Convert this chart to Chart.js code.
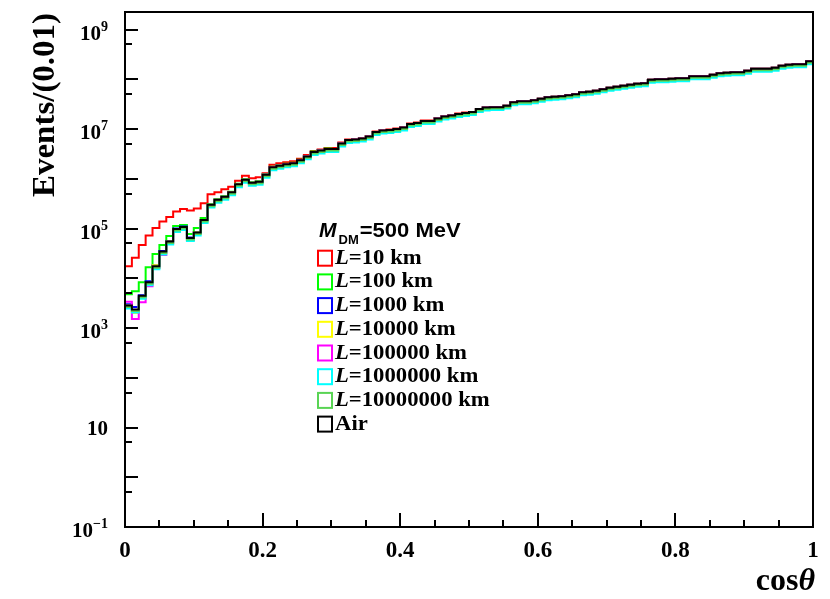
<!DOCTYPE html>
<html>
<head>
<meta charset="utf-8">
<script src="https://cdn.jsdelivr.net/npm/chart.js@4/dist/chart.umd.min.js"></script>
<style>
html,body{margin:0;padding:0;background:#fff;}
#wrap{width:830px;height:599px;position:relative;}
</style>
</head>
<body>
<div id="wrap"><canvas id="c"></canvas></div>
<script>
// histogram: 100 bins of width 0.01 in cos(theta); values are log10(events per bin)
const binWidth = 0.01;
const yMin = 0.1, yMax = 2.25e9;

const logL10 = [
  4.24,4.41,4.67,4.86,5.01,5.14,5.23,5.34,5.39,5.36,
  5.40,5.51,5.69,5.73,5.79,5.84,5.96,6.06,6.01,6.03,
  6.11,6.28,6.31,6.33,6.35,6.40,6.48,6.56,6.59,6.62,
  6.62,6.73,6.79,6.80,6.82,6.86,6.95,6.98,6.99,7.01,
  7.04,7.11,7.13,7.17,7.17,7.22,7.26,7.28,7.31,7.33,
  7.34,7.40,7.43,7.44,7.44,7.47,7.54,7.56,7.56,7.58,
  7.61,7.64,7.65,7.66,7.68,7.70,7.74,7.75,7.77,7.80,
  7.83,7.85,7.87,7.89,7.91,7.92,7.99,8.00,8.00,8.01,
  8.02,8.02,8.06,8.06,8.06,8.09,8.12,8.13,8.14,8.14,
  8.17,8.21,8.21,8.21,8.23,8.27,8.29,8.30,8.30,8.36];
const logL100 = [
  3.68,3.74,3.92,4.22,4.49,4.67,4.85,5.05,5.07,4.89,
  5.01,5.21,5.49,5.59,5.65,5.74,5.90,5.99,5.93,5.95,
  6.09,6.24,6.27,6.30,6.32,6.38,6.46,6.55,6.58,6.61,
  6.60,6.71,6.78,6.79,6.81,6.85,6.94,6.97,6.98,7.00,
  7.03,7.10,7.12,7.16,7.16,7.21,7.25,7.27,7.30,7.32,
  7.34,7.40,7.43,7.44,7.44,7.47,7.54,7.56,7.56,7.58,
  7.61,7.64,7.65,7.66,7.68,7.70,7.74,7.75,7.77,7.80,
  7.83,7.85,7.87,7.89,7.91,7.92,7.99,8.00,8.00,8.01,
  8.02,8.02,8.06,8.06,8.06,8.09,8.12,8.13,8.14,8.14,
  8.17,8.21,8.21,8.21,8.23,8.27,8.29,8.30,8.30,8.36];
const logL1000 = [
  3.48,3.42,3.66,3.94,4.26,4.55,4.75,5.00,5.04,4.82,
  4.92,5.17,5.48,5.58,5.64,5.73,5.89,5.98,5.92,5.94,
  6.08,6.23,6.26,6.29,6.31,6.37,6.45,6.54,6.57,6.60,
  6.60,6.71,6.78,6.79,6.81,6.85,6.94,6.97,6.98,7.00,
  7.03,7.10,7.12,7.16,7.16,7.21,7.25,7.27,7.30,7.32,
  7.34,7.40,7.43,7.44,7.44,7.47,7.54,7.56,7.56,7.58,
  7.61,7.64,7.65,7.66,7.68,7.70,7.74,7.75,7.77,7.80,
  7.83,7.85,7.87,7.89,7.91,7.92,7.99,8.00,8.00,8.01,
  8.02,8.02,8.06,8.06,8.06,8.09,8.12,8.13,8.14,8.14,
  8.17,8.21,8.21,8.21,8.23,8.27,8.29,8.30,8.30,8.36];
const logL1e4 = [
  3.45,3.30,3.60,3.90,4.26,4.52,4.74,4.99,5.03,4.81,
  4.92,5.17,5.48,5.58,5.64,5.73,5.89,5.98,5.92,5.94,
  6.08,6.23,6.26,6.29,6.31,6.37,6.45,6.54,6.57,6.60,
  6.60,6.71,6.78,6.79,6.81,6.85,6.94,6.97,6.98,7.00,
  7.03,7.10,7.12,7.16,7.16,7.21,7.25,7.27,7.30,7.32,
  7.34,7.40,7.43,7.44,7.44,7.47,7.54,7.56,7.56,7.58,
  7.61,7.64,7.65,7.66,7.68,7.70,7.74,7.75,7.77,7.80,
  7.83,7.85,7.87,7.89,7.91,7.92,7.99,8.00,8.00,8.01,
  8.02,8.02,8.06,8.06,8.06,8.09,8.12,8.13,8.14,8.14,
  8.17,8.21,8.21,8.21,8.23,8.27,8.29,8.30,8.30,8.36];
const logL1e5 = [
  3.53,3.18,3.52,3.84,4.21,4.47,4.70,4.97,5.01,4.77,
  4.90,5.16,5.47,5.57,5.63,5.72,5.88,5.97,5.91,5.93,
  6.08,6.23,6.26,6.29,6.31,6.37,6.45,6.54,6.57,6.60,
  6.60,6.71,6.78,6.79,6.81,6.85,6.94,6.97,6.98,7.00,
  7.03,7.10,7.12,7.16,7.16,7.21,7.25,7.27,7.30,7.32,
  7.34,7.40,7.43,7.44,7.44,7.47,7.54,7.56,7.56,7.58,
  7.61,7.64,7.65,7.66,7.68,7.70,7.74,7.75,7.77,7.80,
  7.83,7.85,7.87,7.89,7.91,7.92,7.99,8.00,8.00,8.01,
  8.02,8.02,8.06,8.06,8.06,8.09,8.12,8.13,8.14,8.14,
  8.17,8.21,8.21,8.21,8.23,8.27,8.29,8.30,8.30,8.36];
const logL1e6 = [
  3.39,3.31,3.59,3.86,4.18,4.48,4.68,4.93,4.97,4.75,
  4.86,5.11,5.42,5.52,5.58,5.67,5.83,5.92,5.86,5.88,
  6.02,6.17,6.20,6.23,6.25,6.31,6.39,6.48,6.51,6.54,
  6.54,6.65,6.72,6.73,6.75,6.79,6.88,6.91,6.92,6.94,
  6.97,7.04,7.06,7.10,7.10,7.15,7.19,7.21,7.24,7.26,
  7.28,7.34,7.37,7.38,7.38,7.41,7.48,7.50,7.50,7.52,
  7.55,7.58,7.59,7.60,7.62,7.64,7.68,7.69,7.71,7.74,
  7.77,7.79,7.81,7.83,7.85,7.86,7.93,7.94,7.94,7.95,
  7.96,7.96,8.00,8.00,8.00,8.03,8.06,8.07,8.08,8.08,
  8.11,8.15,8.15,8.15,8.17,8.21,8.23,8.24,8.24,8.30];
const logL1e7 = [
  3.42,3.34,3.62,3.89,4.21,4.51,4.71,4.96,5.00,4.78,
  4.89,5.14,5.45,5.55,5.61,5.70,5.86,5.95,5.89,5.91,
  6.05,6.20,6.23,6.26,6.28,6.34,6.42,6.51,6.54,6.57,
  6.57,6.68,6.75,6.76,6.78,6.82,6.91,6.94,6.95,6.97,
  7.00,7.07,7.09,7.13,7.13,7.18,7.22,7.24,7.27,7.29,
  7.31,7.37,7.40,7.41,7.41,7.44,7.51,7.53,7.53,7.55,
  7.58,7.61,7.62,7.63,7.65,7.67,7.71,7.72,7.74,7.77,
  7.80,7.82,7.84,7.86,7.88,7.89,7.96,7.97,7.97,7.98,
  7.99,7.99,8.03,8.03,8.03,8.06,8.09,8.10,8.11,8.11,
  8.14,8.18,8.18,8.18,8.20,8.24,8.26,8.27,8.27,8.33];
const logAir = [
  3.45,3.37,3.65,3.92,4.24,4.54,4.74,4.99,5.03,4.81,
  4.92,5.17,5.48,5.58,5.64,5.73,5.89,5.98,5.92,5.94,
  6.08,6.23,6.26,6.29,6.31,6.37,6.45,6.54,6.57,6.60,
  6.60,6.71,6.78,6.79,6.81,6.85,6.94,6.97,6.98,7.00,
  7.03,7.10,7.12,7.16,7.16,7.21,7.25,7.27,7.30,7.32,
  7.34,7.40,7.43,7.44,7.44,7.47,7.54,7.56,7.56,7.58,
  7.61,7.64,7.65,7.66,7.68,7.70,7.74,7.75,7.77,7.80,
  7.83,7.85,7.87,7.89,7.91,7.92,7.99,8.00,8.00,8.01,
  8.02,8.02,8.06,8.06,8.06,8.09,8.12,8.13,8.14,8.14,
  8.17,8.21,8.21,8.21,8.23,8.27,8.29,8.30,8.30,8.36];

const series = [logL10, logL100, logL1000, logL1e4, logL1e5, logL1e6, logL1e7, logAir];
const labels = ['L=10 km','L=100 km','L=1000 km','L=10000 km','L=100000 km','L=1000000 km','L=10000000 km','Air'];
const colors = ['#ff0000','#00ff00','#0000ff','#ffff00','#ff00ff','#00ffff','#59d454','#000000'];

const xTickValues = [0, 0.2, 0.4, 0.6, 0.8, 1];
const xTickLabels = ['0', '0.2', '0.4', '0.6', '0.8', '1'];
const yTickValues = [0.1, 10, 1e3, 1e5, 1e7, 1e9];
const yTickLabels = [['10','\u22121'], ['10',''], ['10','3'], ['10','5'], ['10','7'], ['10','9']];

function toPoints(s){
  const pts = [{x: 0, y: yMin}];
  s.forEach((v, k) => pts.push({x: k * binWidth, y: Math.pow(10, v)}));
  pts.push({x: 1, y: Math.pow(10, s[s.length - 1])});
  return pts;
}

const datasets = series.map((s, i) => ({
  label: labels[i],
  data: toPoints(s),
  borderColor: colors[i],
  borderWidth: 2,
  pointRadius: 0,
  stepped: 'before',
  fill: false,
  order: series.length - 1 - i
}));

const SERIF = '"Liberation Serif", "Times New Roman", serif';
const SANS = '"Liberation Sans", Arial, sans-serif';

function text(ctx, str, x, y, font, align, stretch){
  stretch = stretch || 1;
  ctx.save();
  ctx.font = font;
  const w = ctx.measureText(str).width * stretch;
  let x0 = x;
  if (align === 'right') x0 = x - w;
  else if (align === 'center') x0 = x - w / 2;
  ctx.translate(x0, y);
  ctx.scale(stretch, 1);
  ctx.textAlign = 'left';
  ctx.textBaseline = 'alphabetic';
  ctx.fillStyle = '#000';
  ctx.fillText(str, 0, 0);
  ctx.restore();
  return w;
}

const rootFrame = {
  id: 'rootFrame',
  afterDatasetsDraw(chart){
    const ctx = chart.ctx;
    const a = chart.chartArea;
    const xs = chart.scales.x, ys = chart.scales.y;
    ctx.save();
    ctx.strokeStyle = '#000';
    ctx.lineWidth = 2;
    ctx.strokeRect(a.left, a.top, a.right - a.left, a.bottom - a.top);

    // y ticks: decades and 5x
    ctx.beginPath();
    for (let e = -1; e <= 9; e++){
      [[Math.pow(10, e), 13], [5 * Math.pow(10, e), 7]].forEach(([v, len]) => {
        if (v < yMin || v > yMax) return;
        const py = Math.round(ys.getPixelForValue(v));
        ctx.moveTo(a.left, py);
        ctx.lineTo(a.left + len, py);
      });
    }
    // x ticks every 0.05
    for (let i = 0; i <= 20; i++){
      const px = Math.round(xs.getPixelForValue(i * 0.05));
      const len = i % 4 === 0 ? 14 : 7;
      ctx.moveTo(px, a.bottom);
      ctx.lineTo(px, a.bottom - len);
    }
    ctx.stroke();

    // y tick labels
    yTickValues.forEach((v, i) => {
      const py = ys.getPixelForValue(v);
      const [base, exp] = yTickLabels[i];
      const right = 108;
      if (exp){
        const we = text(ctx, exp, right, py + 1, 'bold 14px ' + SERIF, 'right');
        text(ctx, base, right - we, py + 10, 'bold 21px ' + SERIF, 'right');
      } else {
        text(ctx, base, right, py + 7, 'bold 21px ' + SERIF, 'right');
      }
    });

    // x tick labels
    xTickValues.forEach((v, i) => {
      const px = xs.getPixelForValue(v);
      text(ctx, xTickLabels[i], px, 557, 'bold 23px ' + SERIF, 'center');
    });

    // axis titles
    ctx.save();
    ctx.translate(54, 197);
    ctx.rotate(-Math.PI / 2);
    ctx.font = 'bold 31px ' + SERIF;
    const tw = ctx.measureText('Events/(0.01)').width;
    text(ctx, 'Events/(0.01)', 0, 0, 'bold 31px ' + SERIF, 'left', 184 / tw);
    ctx.restore();

    ctx.font = 'bold italic 32px ' + SERIF;
    const thw = ctx.measureText('\u03b8').width;
    text(ctx, '\u03b8', 815, 590, 'bold italic 32px ' + SERIF, 'right');
    text(ctx, 'cos', 815 - thw, 590, 'bold 32px ' + SERIF, 'right');

    // legend
    let lx = 319;
    lx += text(ctx, 'M', lx, 237, 'bold italic 21px ' + SANS, 'left');
    lx += 2;
    lx += text(ctx, 'DM', lx, 244, 'bold 13px ' + SANS, 'left');
    lx += 1;
    text(ctx, '=500 MeV', lx, 237, 'bold 20px ' + SANS, 'left', 1.1);

    labels.forEach((lab, i) => {
      const cy = 257.7 + i * 23.7;
      ctx.strokeStyle = colors[i];
      ctx.lineWidth = 2;
      ctx.strokeRect(318, cy - 7, 14, 15);
      let tx = 335;
      const f = 'bold 21px ' + SERIF;
      if (lab.startsWith('L=')){
        tx += text(ctx, 'L', tx, cy + 6, 'bold italic 21px ' + SERIF, 'left', 1.08);
        text(ctx, lab.slice(1), tx, cy + 6, f, 'left', 1.08);
      } else {
        text(ctx, lab, tx, cy + 6, f, 'left', 1.08);
      }
    });
    ctx.restore();
  }
};

new Chart(document.getElementById('c'), {
  type: 'line',
  data: { datasets },
  options: {
    responsive: true,
    maintainAspectRatio: false,
    animation: false,
    devicePixelRatio: 1,
    layout: { padding: { left: 125, right: 17, top: 12, bottom: 72 } },
    scales: {
      x: { type: 'linear', min: 0, max: 1, display: false },
      y: { type: 'logarithmic', min: yMin, max: yMax, display: false }
    },
    plugins: { legend: { display: false }, tooltip: { enabled: false } }
  },
  plugins: [rootFrame]
});
</script>
</body>
</html>
